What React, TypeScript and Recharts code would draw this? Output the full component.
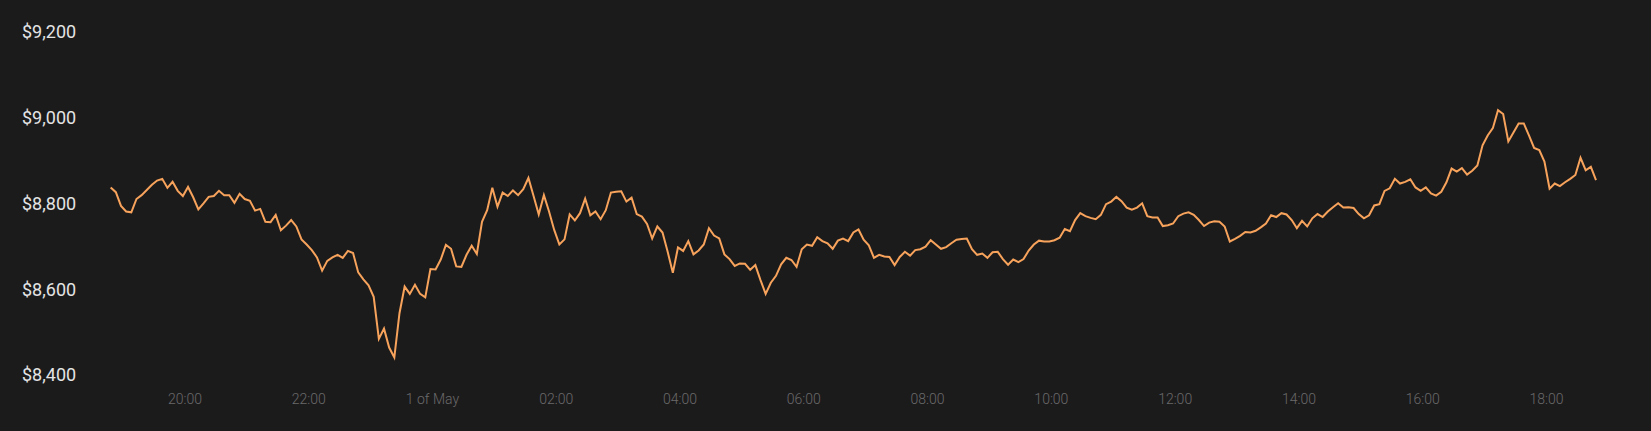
import React from 'react';
import { LineChart, Line, XAxis, YAxis } from 'recharts';

const prices: number[] = [
  8837, 8826, 8794, 8781, 8779, 8810, 8819, 8831, 8843, 8853,
  8857, 8836, 8850, 8829, 8817, 8838, 8814, 8786, 8800, 8815,
  8817, 8829, 8819, 8819, 8801, 8822, 8810, 8806, 8783, 8787,
  8757, 8756, 8773, 8737, 8748, 8761, 8746, 8716, 8704, 8691,
  8674, 8643, 8666, 8674, 8680, 8673, 8689, 8684, 8639, 8623,
  8609, 8582, 8484, 8508, 8464, 8441, 8544, 8606, 8589, 8610,
  8589, 8581, 8647, 8646, 8669, 8703, 8694, 8653, 8652, 8680,
  8701, 8682,
  8757, 8784, 8836, 8792, 8825, 8817, 8830, 8819, 8833, 8859,
  8817, 8774, 8819, 8781, 8738, 8704, 8716, 8774, 8760, 8777,
  8811, 8772, 8781, 8763, 8784, 8825, 8827, 8828, 8804, 8813,
  8775, 8769, 8752, 8718, 8746, 8732, 8687, 8638, 8697, 8689,
  8712, 8681, 8690, 8704, 8742, 8725, 8718, 8681, 8670, 8654,
  8660, 8659, 8645, 8656, 8621, 8589, 8615, 8631, 8658, 8673,
  8668, 8652, 8693, 8704, 8701, 8721, 8712, 8707, 8694, 8713,
  8718, 8712,
  8732, 8739, 8715, 8702, 8673, 8680, 8676, 8675, 8656, 8675,
  8687, 8678, 8691, 8693, 8699, 8714, 8704, 8694, 8698, 8707,
  8715, 8717, 8718, 8693, 8680, 8683, 8673, 8686, 8687, 8670,
  8657, 8669, 8663, 8670, 8690, 8704, 8713, 8711, 8711, 8714,
  8720, 8740, 8735, 8761, 8777, 8770, 8766, 8763, 8773, 8798,
  8804, 8815, 8805, 8790, 8785, 8790, 8800, 8770, 8767, 8767,
  8747, 8749, 8753, 8770, 8776, 8779, 8773, 8761, 8747, 8755,
  8758, 8757,
  8746, 8711, 8717, 8724, 8733, 8732, 8736, 8744, 8753, 8772,
  8768, 8777, 8774, 8761, 8742, 8759, 8746, 8765, 8775, 8768,
  8781, 8791, 8800, 8790, 8791, 8789, 8775, 8765, 8772, 8795,
  8798, 8829, 8835, 8857, 8846, 8850, 8856, 8837, 8829, 8837,
  8823, 8818, 8827, 8849, 8881, 8874, 8882, 8867, 8876, 8888,
  8935, 8958, 8975, 9017, 9008, 8944, 8965, 8986, 8986, 8958,
  8929, 8924, 8897, 8834, 8846, 8840, 8849, 8857, 8866, 8906,
  8877, 8885, 8854,
];

// minutes since midnight of 30 April; one price every 5 minutes
const startMinute = 18 * 60 + 48;
const stepMinutes = 5;

const xTicks = [1200, 1320, 1440, 1560, 1680, 1800, 1920, 2040, 2160, 2280, 2400, 2520];
const xTickLabels = ['20:00', '22:00', '1 of May', '02:00', '04:00', '06:00', '08:00', '10:00', '12:00', '14:00', '16:00', '18:00'];
const yTicks = [8400, 8600, 8800, 9000, 9200];
const yDomain: [number, number] = [8400, 9200];

const data = prices.map((p, i) => ({ t: startMinute + i * stepMinutes, price: p }));
const xDomain: [number, number] = [data[0].t, data[data.length - 1].t];

const fmtY = (v: number) => '$' + v.toLocaleString('en-US');
const fmtX = (v: number) => {
  const idx = xTicks.indexOf(v);
  return idx >= 0 ? xTickLabels[idx] : '';
};

const YTick = (props: any) => {
  const { y, payload } = props;
  return (
    <text x={22} y={y} dy="0.36em" textAnchor="start" fill="#e4e4e4"
      style={{ fontFamily: 'Roboto, sans-serif', fontSize: 18 }}>
      {fmtY(payload.value)}
    </text>
  );
};

const XTick = (props: any) => {
  const { x, y, payload } = props;
  return (
    <text x={x} y={y} dy={29} textAnchor="middle" fill="#6a6a6a"
      style={{ fontFamily: 'Roboto, sans-serif', fontSize: 14, fontWeight: 300 }}>
      {fmtX(payload.value)}
    </text>
  );
};

export default function App() {
  return (
    <div style={{ position: 'fixed', left: 0, top: 0, width: 1651, height: 431, background: '#1c1b1c' }}>
      <LineChart width={1651} height={431} data={data}
        margin={{ top: 31.6, right: 55, bottom: 26, left: 0 }}>
        <XAxis dataKey="t" type="number" domain={xDomain} ticks={xTicks}
          axisLine={false} tickLine={false} tickSize={0} tickMargin={0} height={30}
          tick={<XTick />} interval={0} />
        <YAxis type="number" domain={yDomain} ticks={yTicks} width={110.67}
          axisLine={false} tickLine={false} tick={<YTick />} interval={0} />
        <Line type="linear" dataKey="price" stroke="#f7a35c" strokeWidth={2}
          dot={false} isAnimationActive={false} />
      </LineChart>
    </div>
  );
}
